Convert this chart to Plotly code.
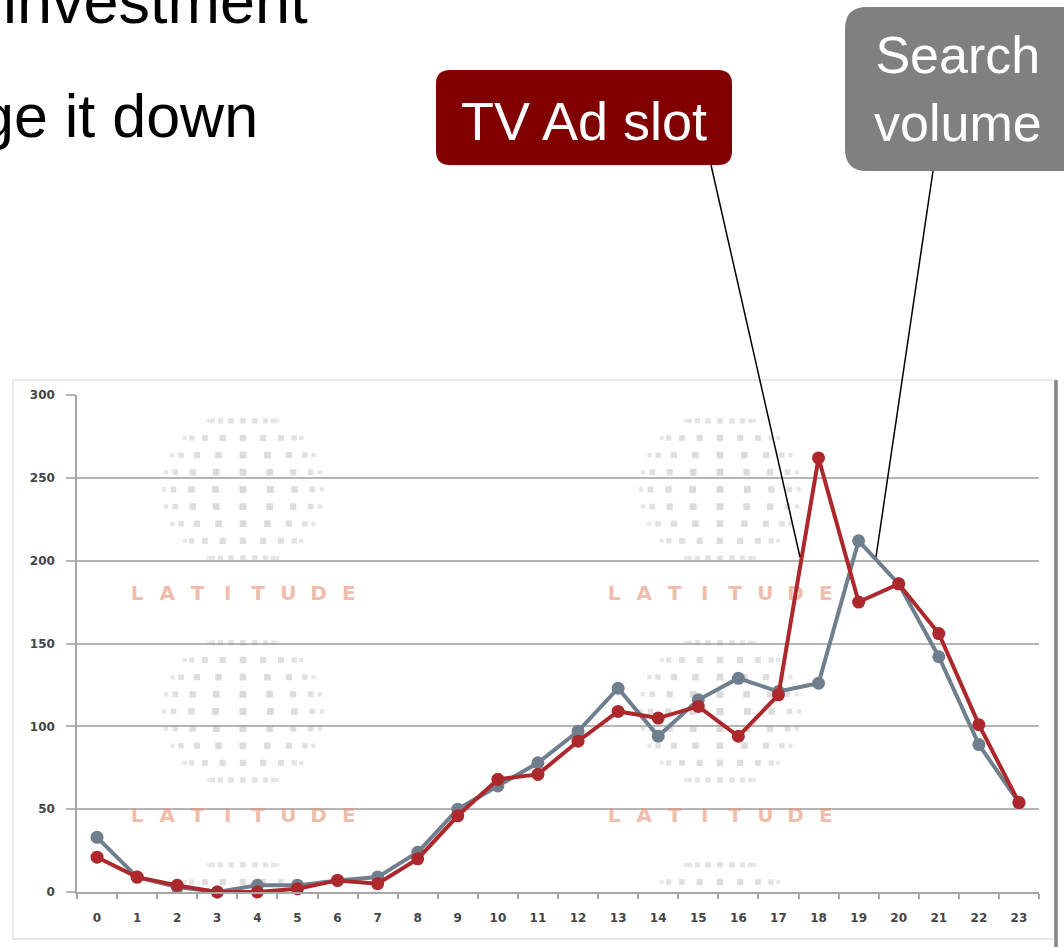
import numpy as np
import plotly.graph_objects as go

# ---------------- data ----------------
hours = list(range(24))
hour_labels = [str(h) for h in hours]
search_volume = [33, 9, 3, 0, 4, 4, 7, 9, 24, 50, 64, 78, 97, 123, 94, 116, 129, 121, 126, 212, 186, 142, 89, 54]
tv_ad_slot = [21, 9, 4, 0, 0, 2, 7, 5, 20, 46, 68, 71, 91, 109, 105, 112, 94, 119, 262, 175, 186, 156, 101, 54]
y_ticks = [0, 50, 100, 150, 200, 250, 300]

W, H = 1064, 947
def px(x):
    return x / W
def py(y):
    return 1 - y / H

GRAY = "#6f7f8e"
RED = "#ad282c"

fig = go.Figure()

# ---------------- watermark (decoration) ----------------
globe_cx = [3.64, 15.54]
globe_cy = [243, 109, -25]
gx, gy, gs, gc = [], [], [], []
for cx in globe_cx:
    for cy in globe_cy:
        for v in np.linspace(-0.9, 0.9, 9):
            w = np.sqrt(1 - v * v)
            for th in np.radians(np.arange(-80, 81, 20)):
                k = max(w * np.cos(th), 0)
                gx.append(cx + 2.0 * w * np.sin(th))
                gy.append(cy + 46 * v)
                gs.append(2.5 + 4.5 * np.sqrt(k))
                gc.append(f"rgba(160,160,160,{0.25 + 0.3 * np.sqrt(k):.2f})")
fig.add_trace(go.Scatter(x=gx, y=gy, mode="markers", hoverinfo="skip", showlegend=False,
                         marker=dict(symbol="square", size=gs, color=gc, line=dict(width=0))))

letters = list("LATITUDE")
lx, ly, lt = [], [], []
for cx in globe_cx:
    for yy in [179, 45]:
        for i, ch in enumerate(letters):
            lx.append(cx + (i - 3.5) * 0.755)
            ly.append(yy)
            lt.append(ch)
fig.add_trace(go.Scatter(x=lx, y=ly, mode="text", text=lt, hoverinfo="skip", showlegend=False,
                         textfont=dict(family="DejaVu Sans", size=20, color="rgba(232,150,120,0.65)", weight="bold")))

# ---------------- data series ----------------
fig.add_trace(go.Scatter(x=hours, y=search_volume, mode="lines+markers", name="Search volume",
                         line=dict(color=GRAY, width=4), marker=dict(color=GRAY, size=13),
                         cliponaxis=False, showlegend=False))
fig.add_trace(go.Scatter(x=hours, y=tv_ad_slot, mode="lines+markers", name="TV Ad slot",
                         line=dict(color=RED, width=4), marker=dict(color=RED, size=13),
                         cliponaxis=False, showlegend=False))

# ---------------- axes ----------------
fig.update_xaxes(domain=[px(77), px(1039)], range=[-0.5, 23.5], automargin=False,
                 tickvals=hours, ticktext=hour_labels, ticks="",
                 showgrid=False, zeroline=False,
                 showline=True, linecolor="#a6a6a6", linewidth=2,
                 tickfont=dict(family="DejaVu Sans", size=12, color="#454545", weight="bold"),
                 ticklabelstandoff=14,
                 minor=dict(tickvals=[h - 0.5 for h in hours] + [23.5], ticks="outside",
                            ticklen=5, tickcolor="#a6a6a6", tickwidth=1.5, showgrid=False))
fig.update_yaxes(domain=[py(892), py(395)], range=[0, 300], tickvals=y_ticks, automargin=False,
                 showgrid=True, gridcolor="#b5b5b5", gridwidth=2, zeroline=False,
                 showline=True, linecolor="#a6a6a6", linewidth=1.5,
                 ticks="outside", ticklen=9, tickcolor="#b5b5b5", tickwidth=2,
                 ticklabelstandoff=9,
                 tickfont=dict(family="DejaVu Sans", size=12, color="#454545", weight="bold"))

# ---------------- decorations ----------------
def rounded_rect(x0, y0, x1, y1, r):
    pts = (f"M {px(x0 + r)},{py(y0)} L {px(x1 - r)},{py(y0)} Q {px(x1)},{py(y0)} {px(x1)},{py(y0 + r)} "
           f"L {px(x1)},{py(y1 - r)} Q {px(x1)},{py(y1)} {px(x1 - r)},{py(y1)} "
           f"L {px(x0 + r)},{py(y1)} Q {px(x0)},{py(y1)} {px(x0)},{py(y1 - r)} "
           f"L {px(x0)},{py(y0 + r)} Q {px(x0)},{py(y0)} {px(x0 + r)},{py(y0)} Z")
    return pts

shapes = [
    # chart frame
    dict(type="rect", xref="paper", yref="paper", x0=px(13), x1=px(1055), y0=py(939), y1=py(380),
         line=dict(color="#e2e2e2", width=1.5), fillcolor="rgba(0,0,0,0)", layer="below"),
    dict(type="line", xref="paper", yref="paper", x0=px(1056), x1=px(1056), y0=py(380), y1=py(947),
         line=dict(color="#858585", width=3.5)),
    # callout boxes
    dict(type="path", xref="paper", yref="paper", path=rounded_rect(436, 70, 732, 165, 14),
         fillcolor="#800000", line=dict(width=0)),
    dict(type="path", xref="paper", yref="paper", path=rounded_rect(845, 7, 1090, 171, 22),
         fillcolor="#808080", line=dict(width=0)),
    # connector lines
    dict(type="line", xref="paper", yref="paper", x0=px(711), y0=py(165), x1=px(800), y1=py(557),
         line=dict(color="black", width=1.5)),
    dict(type="line", xref="paper", yref="paper", x0=px(933), y0=py(171), x1=px(876), y1=py(557),
         line=dict(color="black", width=1.5)),
]

annotations = [
    dict(text="TV Ad slot", x=px(584), y=py(121), xref="paper", yref="paper", showarrow=False,
         xanchor="center", yanchor="middle",
         font=dict(family="Liberation Sans, Arial", size=54, color="white")),
    dict(text="Search<br>volume", x=px(958), y=py(89), xref="paper", yref="paper", showarrow=False,
         xanchor="center", yanchor="middle",
         font=dict(family="Liberation Sans, Arial", size=52, color="white")),
    dict(text="investment", x=px(310), y=py(1), xref="paper", yref="paper", showarrow=False,
         xanchor="right", yanchor="middle",
         font=dict(family="Liberation Sans, Arial", size=63, color="black")),
    dict(text="ge it down", x=px(260), y=py(116), xref="paper", yref="paper", showarrow=False,
         xanchor="right", yanchor="middle",
         font=dict(family="Liberation Sans, Arial", size=61, color="black")),
]

fig.update_layout(width=W, height=H, margin=dict(l=0, r=0, t=0, b=0, pad=0),
                  paper_bgcolor="white", plot_bgcolor="white",
                  shapes=shapes, annotations=annotations, showlegend=False)

fig.write_html("out.html", config={"displayModeBar": False},
               post_script="document.body.style.margin='0px';")
